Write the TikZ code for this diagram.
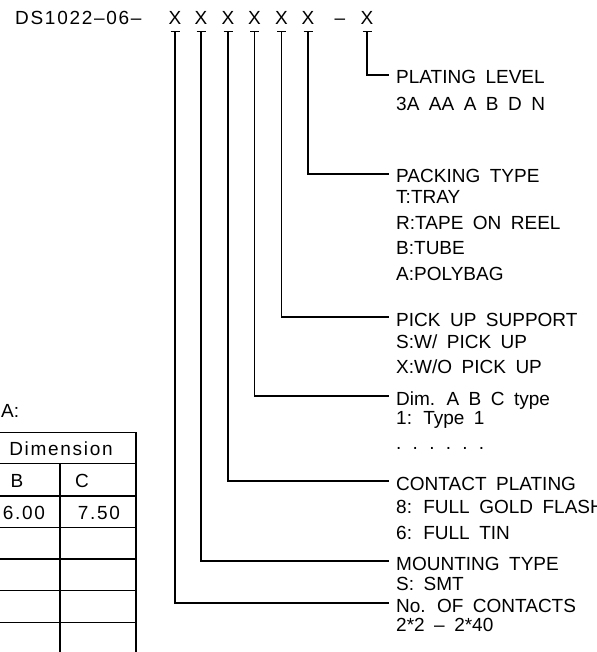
\documentclass[tikz,border=0pt]{standalone}
\usepackage{fontspec}
\setmainfont{Liberation Sans}[WordSpace=1.8]
\newfontfamily\partfont{Liberation Sans}[LetterSpace=9]
\usetikzlibrary{positioning}

\begin{document}
\begin{tikzpicture}[
        x=1pt, y=-1pt,
        every node/.style = {font=\fontsize{19}{24.5}\selectfont},
        code/.style = {anchor=base, inner xsep=0pt, inner ysep=6.5pt},
        title/.style = {anchor=west, inner xsep=7pt, inner ysep=0pt, text height=19pt, text depth=1pt},
        values/.style = {anchor=north west, align=left, inner xsep=7pt, inner ysep=0pt},
        cell/.style = {anchor=base, inner sep=0pt},
        wire/.style = {draw, line width=1.1pt},
        rule/.style = {draw, line width=1.1pt}
    ]
        \useasboundingbox (0,0) rectangle (596,652);

        % Part number
        \node (part) [code, anchor=base west, font=\fontsize{19}{24.5}\partfont] at (15,25) {DS1022\textendash06\textendash};
        \node (xa) [code] at (175,25) {X};
        \node (xb) [code] at (201,25) {X};
        \node (xc) [code] at (228,25) {X};
        \node (xd) [code] at (254.5,25) {X};
        \node (xe) [code] at (281.5,25) {X};
        \node (xf) [code] at (308,25) {X};
        \node (dash) [code] at (340,25) {--};
        \node (xg) [code] at (367,25) {X};

        % Descriptions
        \node (plat) [title] at (389,75) {PLATING LEVEL};
        \node (platv) [below=11.5pt of plat.south west, values] {3A AA A B D N};

        \node (pack) [title] at (389,174) {PACKING TYPE};
        \node (packv) [below=6.5pt of pack.south west, values, font=\fontsize{19}{25.5}\selectfont] {T:TRAY\\R:TAPE ON REEL\\B:TUBE\\A:POLYBAG};

        \node (pick) [title] at (389,317) {PICK UP SUPPORT};
        \node (pickv) [below=7.5pt of pick.south west, values, font=\fontsize{19}{25}\selectfont] {S:W/ PICK UP\\X:W/O PICK UP};

        \node (dim) [title] at (389,396) {Dim. A B C type};
        \node (dimv) [below=5.5pt of dim.south west, values, font=\fontsize{19}{25}\selectfont] {1: Type 1\\. . . . . .};

        \node (cplat) [title] at (389,481) {CONTACT PLATING};
        \node (cplatv) [below=8.5pt of cplat.south west, values, font=\fontsize{19}{26}\selectfont] {8: FULL GOLD FLASH\\6: FULL TIN};

        \node (mount) [title] at (389,561) {MOUNTING TYPE};
        \node (mountv) [below=5.5pt of mount.south west, values] {S: SMT};

        \node (ncont) [title] at (389,603) {No. OF CONTACTS};
        \node (ncontv) [below=4.5pt of ncont.south west, values] {2*2 -- 2*40};

        % Leaders
        \draw [wire] ([xshift=-4.5pt]xa.south) -- ([xshift=4.5pt]xa.south);
        \draw [wire] ([xshift=-4.5pt]xb.south) -- ([xshift=4.5pt]xb.south);
        \draw [wire] ([xshift=-4.5pt]xc.south) -- ([xshift=4.5pt]xc.south);
        \draw [wire] ([xshift=-4.5pt]xd.south) -- ([xshift=4.5pt]xd.south);
        \draw [wire] ([xshift=-4.5pt]xe.south) -- ([xshift=4.5pt]xe.south);
        \draw [wire] ([xshift=-4.5pt]xf.south) -- ([xshift=4.5pt]xf.south);
        \draw [wire] ([xshift=-4.5pt]xg.south) -- ([xshift=4.5pt]xg.south);

        \draw [wire] (xg.south) |- (plat.west);
        \draw [wire] (xf.south) |- (pack.west);
        \draw [wire] (xe.south) |- (pick.west);
        \draw [wire] (xd.south) |- (dim.west);
        \draw [wire] (xc.south) |- (cplat.west);
        \draw [wire] (xb.south) |- (mount.west);
        \draw [wire] (xa.south) |- (ncont.west);

        % Dimension table (cut at the left edge)
        \draw [rule] (0,432.7) -- (136,432.7) -- (136,652);
        \draw [rule] (60,463.5) -- (60,652);
        \draw [rule] (0,463.5) -- (136,463.5);
        \draw [rule] (0,496) -- (136,496);
        \draw [rule] (0,527.7) -- (136,527.7);
        \draw [rule] (0,559) -- (136,559);
        \draw [rule] (0,590.7) -- (136,590.7);
        \draw [rule] (0,622.3) -- (136,622.3);

        \node (tabname) [cell, anchor=base west] at (1,417) {A:};
        \node (tabhead) [cell, font=\fontsize{19}{24.5}\partfont] at (61,455) {Dimension};
        \node (colb) [cell] at (17,487) {B};
        \node (colc) [cell] at (82,487) {C};
        \node (valb) [cell, font=\fontsize{19}{24.5}\partfont] at (24,519) {6.00};
        \node (valc) [cell, font=\fontsize{19}{24.5}\partfont] at (99,519) {7.50};

    \end{tikzpicture}
\end{document}
